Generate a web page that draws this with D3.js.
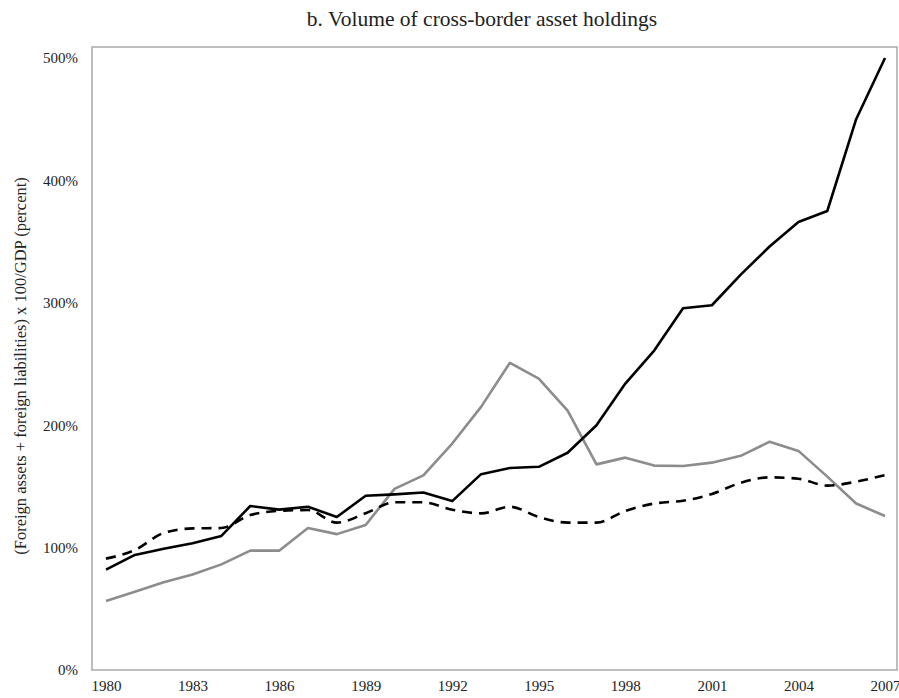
<!DOCTYPE html>
<html>
<head>
<meta charset="utf-8">
<script src="https://cdn.jsdelivr.net/npm/d3@7"></script>
<style>
  body { margin: 0; background: #fff; }
  svg text { font-family: "Liberation Serif", "Times New Roman", serif; fill: #222; }
</style>
</head>
<body>
<svg id="chart" width="899" height="698"></svg>
<script>
/* b. Volume of cross-border asset holdings */

const YEARS = d3.range(1980, 2008);
const TICK_YEARS = [1980, 1983, 1986, 1989, 1992, 1995, 1998, 2001, 2004, 2007];
const Y_TICKS = [0, 100, 200, 300, 400, 500];

// black solid
const SERIES_BLACK = [82, 94, 99, 103.5, 109.5, 134, 131, 133.4, 125, 142.4,
  143.5, 145, 138, 160, 165, 166, 177.5, 200, 234, 261,
  295.5, 298, 323, 346, 366, 375, 450, 500];
// grey solid
const SERIES_GREY = [56.4, 64, 71.6, 78, 86.3, 97.5, 97.5, 116, 111, 118.5,
  148, 159, 185, 215, 251, 238, 212, 168, 173.5, 167,
  166.7, 169.4, 175, 186.5, 179, 158, 136, 125.8];
// black dashed
const SERIES_DASHED = [91, 98, 112, 115.7, 116, 126.6, 130, 130.7, 120.4, 128,
  137, 137, 131, 128, 133.4, 125, 120.4, 120.4, 130, 136,
  138.3, 143.8, 153, 157.4, 156.3, 150.6, 153.9, 159.3];

const svg = d3.select("#chart");

const frame = { left: 92, right: 897, top: 47, bottom: 670 };

const x = d3.scaleLinear().domain([1980, 2007]).range([106, 885]);
const y = d3.scaleLinear().domain([0, 500]).range([670, 58]);

// Title
svg.append("text")
  .attr("x", 482)
  .attr("y", 26)
  .attr("text-anchor", "middle")
  .style("font-size", "21.5px")
  .text("b. Volume of cross-border asset holdings");

// Plot frame
svg.append("rect")
  .attr("x", frame.left)
  .attr("y", frame.top)
  .attr("width", frame.right - frame.left)
  .attr("height", frame.bottom - frame.top)
  .attr("fill", "none")
  .attr("stroke", "#a8a8a8")
  .attr("stroke-width", 1.5);

// Y axis labels
const yAxis = d3.axisLeft(y)
  .tickValues(Y_TICKS)
  .tickSize(0)
  .tickPadding(14)
  .tickFormat((d) => d + "%");

svg.append("g")
  .attr("transform", `translate(${frame.left},0)`)
  .call(yAxis)
  .call((g) => g.select(".domain").remove())
  .selectAll("text")
  .style("font-size", "15px")
  .attr("fill", "#222");

// X axis labels
const xAxis = d3.axisBottom(x)
  .tickValues(TICK_YEARS)
  .tickSize(0)
  .tickPadding(10)
  .tickFormat(d3.format("d"));

svg.append("g")
  .attr("transform", `translate(0,${frame.bottom})`)
  .call(xAxis)
  .call((g) => g.select(".domain").remove())
  .selectAll("text")
  .style("font-size", "15px")
  .attr("fill", "#222");

// Y axis title
svg.append("text")
  .attr("transform", "translate(26,366) rotate(-90)")
  .attr("text-anchor", "middle")
  .style("font-size", "16.5px")
  .text("(Foreign assets + foreign liabilities) x 100/GDP (percent)");

// Lines
const line = d3.line()
  .x((d, i) => x(YEARS[i]))
  .y((d) => y(d));

const smooth = d3.line()
  .x((d, i) => x(YEARS[i]))
  .y((d) => y(d))
  .curve(d3.curveMonotoneX);

svg.append("path")
  .datum(SERIES_GREY)
  .attr("d", line)
  .attr("fill", "none")
  .attr("stroke", "#8c8c8c")
  .attr("stroke-width", 2.6)
  .attr("stroke-linejoin", "round");

svg.append("path")
  .datum(SERIES_DASHED)
  .attr("d", smooth)
  .attr("fill", "none")
  .attr("stroke", "#000")
  .attr("stroke-width", 2.6)
  .attr("stroke-dasharray", "10,7");

svg.append("path")
  .datum(SERIES_BLACK)
  .attr("d", line)
  .attr("fill", "none")
  .attr("stroke", "#000")
  .attr("stroke-width", 2.6)
  .attr("stroke-linejoin", "round");
</script>
</body>
</html>
